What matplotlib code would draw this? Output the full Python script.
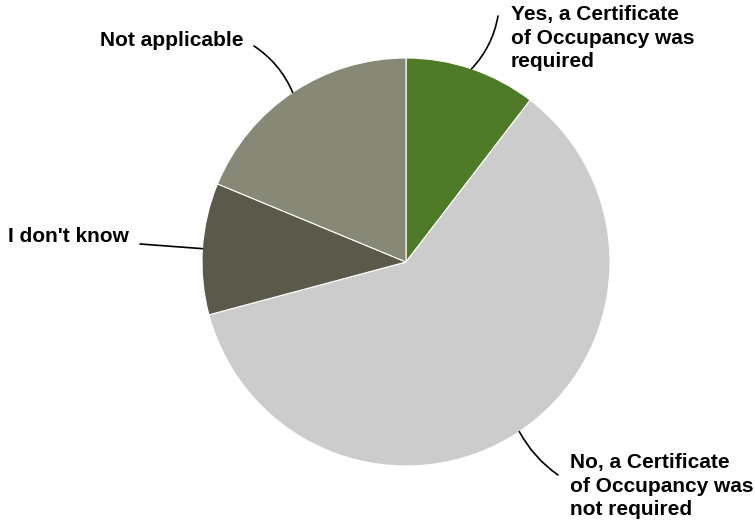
import matplotlib
matplotlib.use("Agg")
import matplotlib.pyplot as plt
import numpy as np

# Survey responses (counts)
labels = [
    "Yes, a Certificate\nof Occupancy was\nrequired",
    "No, a Certificate\nof Occupancy was\nnot required",
    "I don't know",
    "Not applicable",
]
counts = [5, 29, 5, 9]
colors = ["#4f7a28", "#cccccc", "#5b594a", "#878876"]

# label anchor (x, y in pixels from top-left), horizontal alignment
label_pos = [(511, 38, "left"), (570, 486, "left"), (129, 237, "right"), (243, 41, "right")]
leader_end = [(498, 16), (558, 475), (140, 244), (254, 46)]
leader_rad = [-0.15, -0.12, 0.0, -0.15]

W, H = 755, 529
fig = plt.figure(figsize=(W / 100, H / 100), dpi=100)
ax = fig.add_axes([0, 0, 1, 1])

cx, cy, r = 406, H - 262, 204
wedges, _ = ax.pie(
    counts,
    colors=colors,
    startangle=90,
    counterclock=False,
    center=(cx, cy),
    radius=r,
    wedgeprops=dict(edgecolor="white", linewidth=0.8),
    frame=True,
)
ax.set_xlim(0, W)
ax.set_ylim(0, H)
ax.set_aspect("equal")
ax.axis("off")

for w, text, (tx, ty, ha), (ex, ey), rad in zip(wedges, labels, label_pos, leader_end, leader_rad):
    mid = np.deg2rad((w.theta1 + w.theta2) / 2)
    px, py = cx + r * np.cos(mid), cy + r * np.sin(mid)
    ax.annotate(
        "",
        xy=(px, py),
        xytext=(ex, H - ey),
        arrowprops=dict(arrowstyle="-", color="black", lw=1.2,
                        connectionstyle=f"arc3,rad={rad}", shrinkA=0, shrinkB=0),
    )
    ax.text(tx, H - ty, text, ha=ha, va="center", fontsize=15, fontweight="bold",
            family=["Liberation Sans", "DejaVu Sans"], linespacing=1.3)

fig.savefig("out.png", dpi=100)
